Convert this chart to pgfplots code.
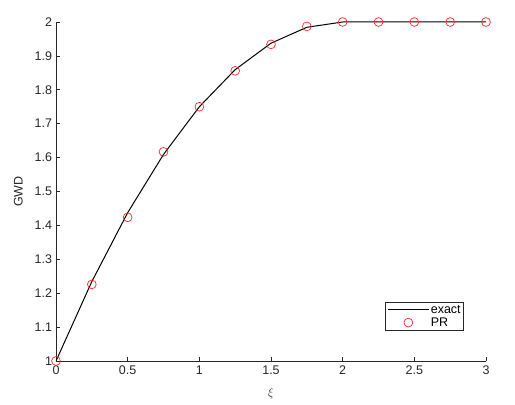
\documentclass[border=0pt]{standalone}
\usepackage{pgfplots}
\pgfplotsset{compat=1.18}
\usepackage{fontspec}
\setmainfont{Liberation Sans}
\definecolor{axgray}{rgb}{0.15,0.15,0.15}
\pgfplotsset{
    lineleg/.style={legend image code/.code={\draw[##1] (0bp,0bp) -- (41bp,0bp);}},
    markleg/.style={legend image code/.code={\draw[##1] plot coordinates {(20.5bp,0bp)};}},
}
\begin{document}
\begin{tikzpicture}
\useasboundingbox (-56bp,-44bp) rectangle (459bp,361bp);
\begin{axis}[
    scale only axis,
    width=430bp, height=339bp,
    xmin=0, xmax=3, ymin=1, ymax=2,
    xtick={0,0.5,...,3}, ytick={1,1.1,...,2.01},
    axis x line*=bottom, axis y line*=left,
    axis line style={axgray, line width=0.7bp, -},
    tick style={axgray, line width=0.7bp},
    tick align=inside, major tick length=4.5bp,
    xtick pos=bottom, ytick pos=left,
    tick label style={font=\fontsize{12.5bp}{14bp}\selectfont, text=axgray},
    yticklabel style={xshift=-0.5bp},
    xticklabel style={yshift=-1bp},
    /pgf/number format/assume math mode=true,
    yticklabel style={/pgf/number format/fixed, /pgf/number format/precision=1},
    xticklabel style={/pgf/number format/fixed, /pgf/number format/precision=1},
    ylabel={GWD}, xlabel={$\xi$},
    label style={font=\fontsize{12.5bp}{14bp}\selectfont, text=axgray},
    ylabel style={yshift=5bp},
    xlabel style={yshift=-7bp},
    legend style={at={(0.949,0.0885)}, anchor=south east, draw=axgray,
        line width=0.7bp, font=\fontsize{12.5bp}{14bp}\selectfont,
        inner xsep=1.5bp, inner ysep=1bp, row sep=-1bp,
        nodes={inner xsep=1.5bp}},
    legend cell align=left,
]
\addplot[black, line width=1bp, mark=none, lineleg] coordinates {
(0,1) (0.25,1.234375) (0.5,1.4375) (0.75,1.609375) (1,1.75)
(1.25,1.859375) (1.5,1.9375) (1.75,1.984375) (2,2) (2.25,2)
(2.5,2) (2.75,2) (3,2)};
\addlegendentry{exact}
\addplot[only marks, mark=o, mark size=4.4bp, red!85!white, mark options={line width=0.7bp},
    markleg] coordinates {
(0,1) (0.25,1.226) (0.5,1.424) (0.75,1.617) (1,1.750)
(1.25,1.856) (1.5,1.934) (1.75,1.987) (2,2) (2.25,2)
(2.5,2) (2.75,2) (3,2)};
\addlegendentry{PR}
\end{axis}
\end{tikzpicture}
\end{document}
